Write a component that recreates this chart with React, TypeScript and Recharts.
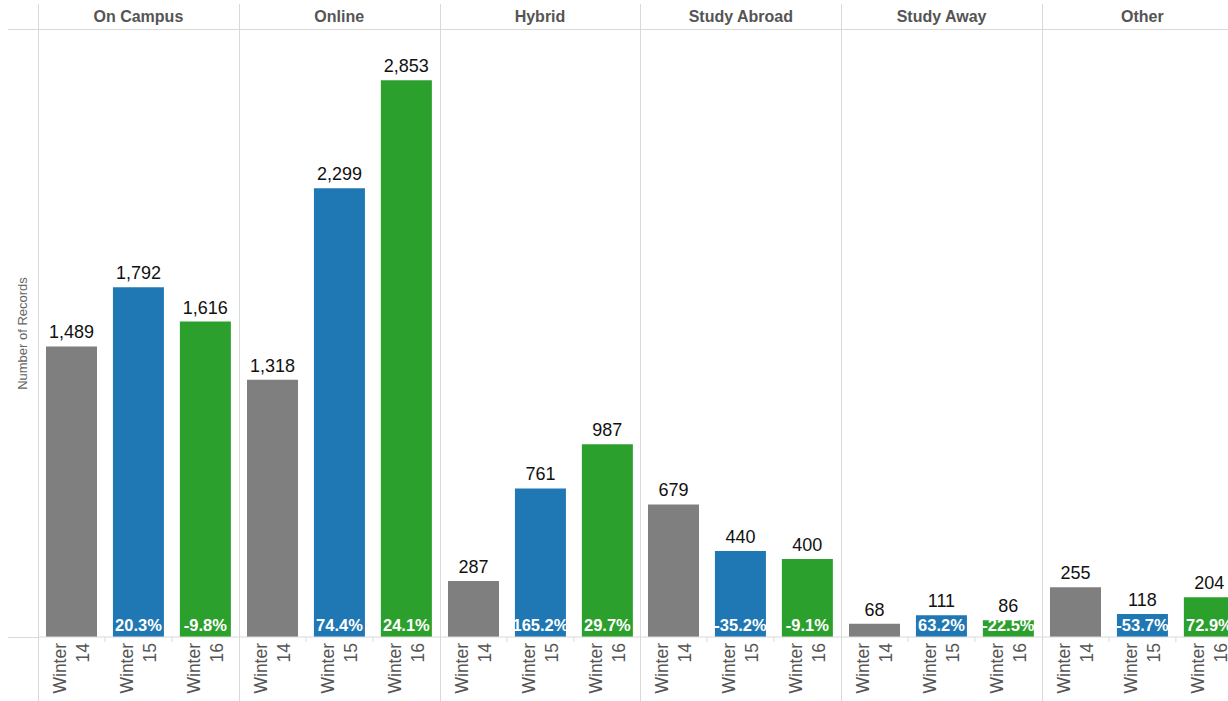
import { Bar, BarChart, Cell, LabelList, XAxis, YAxis } from "recharts";

// enrolment records per delivery mode, one array per winter term
const modes = ["On Campus", "Online", "Hybrid", "Study Abroad", "Study Away", "Other"];
const terms = ["Winter 14", "Winter 15", "Winter 16"];
const winter14 = [1489, 1318, 287, 679, 68, 255];
const winter15 = [1792, 2299, 761, 440, 111, 118];
const winter16 = [1616, 2853, 987, 400, 86, 204];
// year-over-year change shown inside the bars
const change15 = [20.3, 74.4, 165.2, -35.2, 63.2, -53.7];
const change16 = [-9.8, 24.1, 29.7, -9.1, -22.5, 72.9];
const termColors = ["#7f7f7f", "#1f77b4", "#2ca02c"];

const FONT = 'Arial, "Liberation Sans", sans-serif';
const LINE = "#d9d9d9";
const PANEL_W = 200.8;
const LABEL_COL = 30;
const HEADER_H = 25;
const CHART_H = 671;
const AXIS_H = 64;
const Y_MAX = 3110;

function panelData(i: number) {
  return [
    { term: terms[0], records: winter14[i], change: null as number | null },
    { term: terms[1], records: winter15[i], change: change15[i] },
    { term: terms[2], records: winter16[i], change: change16[i] },
  ];
}

function TermTick(props: any) {
  const { x, y, payload, index } = props;
  const [word, year] = String(payload.value).split(" ");
  return (
    <g transform={`translate(${x},${y})`}>
      {index > 0 && <line x1={-PANEL_W / 6} x2={-PANEL_W / 6} y1={0} y2={5} stroke={LINE} />}
      <text transform="rotate(-90)" x={-6} y={-5} textAnchor="end" fontSize={17.5} fill="#555" fontFamily={FONT}>
        {word}
      </text>
      <text transform="rotate(-90)" x={-6} y={17.5} textAnchor="end" fontSize={17.5} fill="#555" fontFamily={FONT}>
        {year}
      </text>
    </g>
  );
}

function Panel({ index }: { index: number }) {
  const data = panelData(index);
  return (
    <div style={{ position: "absolute", left: LABEL_COL + index * PANEL_W, top: 0, width: PANEL_W, height: HEADER_H + 1 + CHART_H }}>
      <div
        style={{
          height: HEADER_H,
          lineHeight: `${HEADER_H}px`,
          textAlign: "center",
          fontWeight: "bold",
          fontSize: 16,
          color: "#555",
        }}
      >
        {modes[index]}
      </div>
      <div style={{ position: "absolute", top: HEADER_H + 1, left: 0 }}>
        <BarChart width={PANEL_W} height={CHART_H} data={data} margin={{ top: 0, right: 0, bottom: 0, left: 0 }}>
          <XAxis
            dataKey="term"
            height={AXIS_H}
            interval={0}
            tickLine={false}
            tickSize={0}
            tickMargin={0}
            axisLine={{ stroke: LINE }}
            tick={<TermTick />}
          />
          <YAxis hide domain={[0, Y_MAX]} />
          <Bar dataKey="records" barSize={51} isAnimationActive={false}>
            {data.map((d, i) => (
              <Cell key={d.term} fill={termColors[i]} />
            ))}
            <LabelList
              dataKey="records"
              position="top"
              offset={8}
              fontSize={18}
              fill="#111"
              fontFamily={FONT}
              formatter={(v: any) => Number(v).toLocaleString("en-US")}
            />
            <LabelList
              dataKey="change"
              position="insideBottom"
              offset={6}
              fontSize={16.5}
              fontWeight="bold"
              fill="#fff"
              fontFamily={FONT}
              formatter={(v: any) => (v == null ? "" : `${Number(v).toFixed(1)}%`)}
            />
          </Bar>
        </BarChart>
      </div>
      <div style={{ position: "absolute", left: 0, top: 0, width: 1, height: "100%", background: LINE }} />
    </div>
  );
}

export default function App() {
  return (
    <div
      style={{
        position: "absolute",
        left: 8,
        top: 4,
        width: 1220,
        height: 697,
        overflow: "hidden",
        fontFamily: FONT,
        background: "#fff",
      }}
    >
      <div style={{ position: "absolute", left: 0, top: HEADER_H, width: "100%", height: 1, background: LINE }} />
      <div style={{ position: "absolute", left: 0, top: HEADER_H + 1 + CHART_H - AXIS_H, width: LABEL_COL, height: 1, background: LINE }} />
      <svg style={{ position: "absolute", left: 0, top: HEADER_H + 1 }} width={LABEL_COL} height={CHART_H - AXIS_H}>
        <text
          transform={`translate(19,${(CHART_H - AXIS_H) / 2}) rotate(-90)`}
          textAnchor="middle"
          fontSize={13}
          fill="#666"
          fontFamily={FONT}
        >
          Number of Records
        </text>
      </svg>
      {modes.map((m, i) => (
        <Panel key={m} index={i} />
      ))}
    </div>
  );
}
